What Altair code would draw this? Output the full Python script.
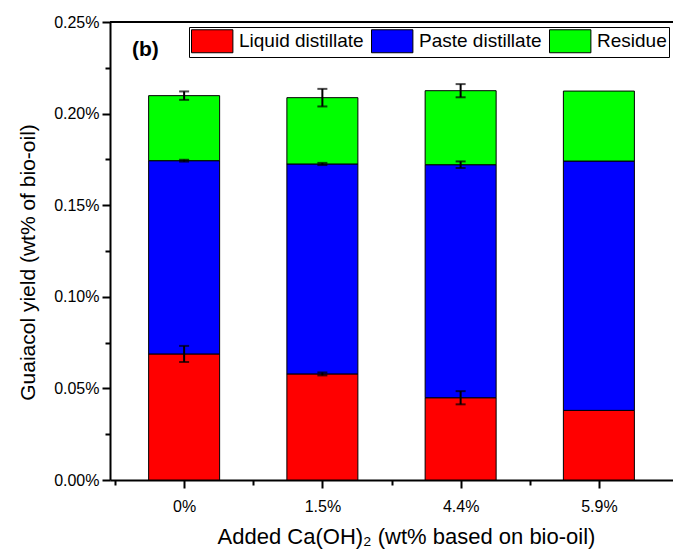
import altair as alt
import pandas as pd

# Ca(OH)2 dosage groups and the three guaiacol fractions stacked per group
categories = ["0%", "1.5%", "4.4%", "5.9%"]
series = ["Liquid distillate", "Paste distillate", "Residue"]
colors = ["#FF0000", "#0000FF", "#00FF00"]

# guaiacol yield of each fraction (wt% of bio-oil)
liquid = [0.0688, 0.0579, 0.0449, 0.0380]
paste = [0.1055, 0.1146, 0.1272, 0.1361]
residue = [0.0355, 0.0362, 0.0404, 0.0382]

# standard deviations (no replicate for the last group)
liquid_err = [0.0044, 0.0008, 0.0036, None]
paste_err = [0.0005, 0.0006, 0.0018, None]
residue_err = [0.0023, 0.0048, 0.0036, None]

y_ticks = [0.0, 0.025, 0.05, 0.075, 0.1, 0.125, 0.15, 0.175, 0.2, 0.225, 0.25]
x_ticks = [0.5, 1, 1.5, 2, 2.5, 3, 3.5, 4]

FONT = "Liberation Sans"

# stacked segments: each fraction sits on top of the previous ones
rows = []
for i, cat in enumerate(categories):
    base = 0.0
    for name, vals, errs in zip(series, [liquid, paste, residue],
                                [liquid_err, paste_err, residue_err]):
        top = base + vals[i]
        e = errs[i]
        rows.append({
            "pos": i + 1,
            "category": cat,
            "series": name,
            "lo": base,
            "hi": top,
            "err_lo": top - e if e is not None else None,
            "err_hi": top + e if e is not None else None,
        })
        base = top
df = pd.DataFrame(rows)
df_err = df.dropna(subset=["err_lo"])

label_array = "[" + ",".join("'" + c + "'" for c in categories) + "]"

x_axis = alt.Axis(
    values=x_ticks,
    labelExpr=f"datum.value % 1 != 0 ? '' : {label_array}[datum.value - 1]",
    tickSize={"condition": {"test": "datum.value % 1 != 0", "value": 5}, "value": 8},
    title="Added Ca(OH)₂ (wt% based on bio-oil)",
    labelFontSize=16,
    labelPadding=10,
    titleFontSize=22,
    titlePadding=12,
    titleX=296,
    grid=False,
)
y_axis = alt.Axis(
    values=y_ticks,
    labelExpr="round(datum.value * 40) % 2 == 1 ? '' : format(datum.value, '.2f') + '%'",
    tickSize={"condition": {"test": "round(datum.value * 40) % 2 == 1", "value": 5}, "value": 8},
    title="Guaiacol yield (wt% of bio-oil)",
    labelFontSize=16,
    labelPadding=3,
    titleFontSize=21,
    titlePadding=15,
    titleY=240,
    grid=False,
)
x_scale = alt.Scale(domain=[0.5, 4.5], nice=False, zero=False)
y_scale = alt.Scale(domain=[0, 0.25], nice=False)

bars = alt.Chart(df).mark_bar(size=71, stroke="black", strokeWidth=1).encode(
    x=alt.X("pos:Q", scale=x_scale, axis=x_axis),
    y=alt.Y("lo:Q", scale=y_scale, axis=y_axis),
    y2="hi:Q",
    color=alt.Color(
        "series:N",
        scale=alt.Scale(domain=series, range=colors),
        legend=alt.Legend(
            title=None,
            orient="none",
            legendX=79,
            legendY=5,
            direction="horizontal",
            symbolType="M-1,-1H2.6V1H-1Z",
            symbolSize=529,
            symbolStrokeColor="black",
            symbolStrokeWidth=1,
            symbolOpacity=1,
            labelFont=FONT,
            labelFontSize=19,
            labelColor="black",
            labelOffset=24,
            columnPadding=5,
            strokeColor="black",
            padding=2,
        ),
    ),
)

errors = alt.Chart(df_err).mark_errorbar(ticks=True, size=10, thickness=2, color="black").encode(
    x=alt.X("pos:Q", scale=x_scale, axis=x_axis),
    y=alt.Y("err_lo:Q", scale=y_scale, axis=y_axis),
    y2="err_hi:Q",
)

top_frame = alt.Chart(pd.DataFrame({"v": [0.25]})).mark_rule(color="black", strokeWidth=2).encode(
    y=alt.Y("v:Q", scale=y_scale, axis=y_axis),
)

panel = alt.Chart(pd.DataFrame({"t": ["(b)"]})).mark_text(
    font=FONT, fontSize=21, fontWeight="bold", align="left", baseline="middle", color="black"
).encode(text="t:N", x=alt.value(22), y=alt.value(28))

chart = alt.layer(bars, errors, top_frame, panel).properties(
    width=563,
    height=458,
    autosize=alt.AutoSizeParams(type="none"),
    padding={"left": 110, "top": 22, "right": 0, "bottom": 75},
).configure_view(stroke=None).configure_axis(
    domainColor="black",
    domainWidth=2,
    tickColor="black",
    tickWidth=2,
    labelColor="black",
    titleColor="black",
    labelFont=FONT,
    titleFont=FONT,
    titleFontWeight="normal",
)

chart.save("out.html", embed_options={"renderer": "svg", "actions": False})
